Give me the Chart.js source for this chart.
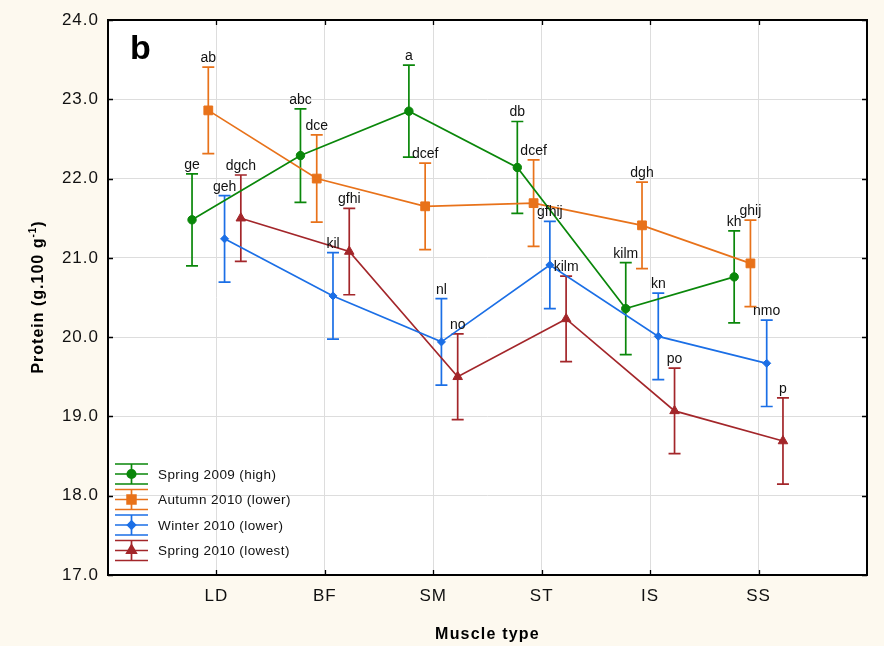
<!DOCTYPE html>
<html>
<head>
<meta charset="utf-8">
<script src="https://cdn.jsdelivr.net/npm/chart.js@4/dist/chart.umd.min.js"></script>
<style>
  html, body { margin: 0; padding: 0; background: #fdf9ef; }
</style>
</head>
<body>
<canvas id="proteinChart" width="884" height="646"></canvas>
<script>
// muscle types on the x axis and y tick values
const muscles = ['LD', 'BF', 'SM', 'ST', 'IS', 'SS']
const yTicks = [17, 18, 19, 20, 21, 22, 23, 24]

// mean protein (g.100 g-1), +/- error and letter groups, per season
const spring2009 = [21.48, 22.29, 22.85, 22.14, 20.36, 20.76]
const spring2009Err = [0.58, 0.59, 0.58, 0.58, 0.58, 0.58]
const spring2009Letters = ['ge', 'abc', 'a', 'db', 'kilm', 'kh']

const autumn2010 = [22.86, 22.0, 21.65, 21.69, 21.41, 20.93]
const autumn2010Err = [0.545, 0.55, 0.545, 0.545, 0.545, 0.545]
const autumn2010Letters = ['ab', 'dce', 'dcef', 'dcef', 'dgh', 'ghij']

const winter2010 = [21.24, 20.52, 19.94, 20.91, 20.01, 19.67]
const winter2010Err = [0.545, 0.545, 0.545, 0.55, 0.545, 0.545]
const winter2010Letters = ['geh', 'kil', 'nl', 'gfhij', 'kn', 'nmo']

const spring2010 = [21.5, 21.08, 19.5, 20.23, 19.07, 18.69]
const spring2010Err = [0.545, 0.545, 0.54, 0.54, 0.54, 0.545]
const spring2010Letters = ['dgch', 'gfhi', 'no', 'kilm', 'po', 'p']

const series = [
  { label: 'Spring 2009 (high)', values: spring2009, err: spring2009Err, letters: spring2009Letters,
    color: '#0a870a', point: 'circle', radius: 4.2, shift: -0.225 },
  { label: 'Autumn 2010 (lower)', values: autumn2010, err: autumn2010Err, letters: autumn2010Letters,
    color: '#e8721a', point: 'rect', radius: 6.2, shift: -0.075 },
  { label: 'Winter 2010 (lower)', values: winter2010, err: winter2010Err, letters: winter2010Letters,
    color: '#1b6fe6', point: 'rectRot', radius: 4, shift: 0.075 },
  { label: 'Spring 2010 (lowest)', values: spring2010, err: spring2010Err, letters: spring2010Letters,
    color: '#a3262a', point: 'triangle', radius: 5.5, shift: 0.225 }
]

const FONT = 'Arial, "Liberation Sans", sans-serif'

// backgrounds, error bars, letters, frame, legend and titles
const decor = {
  id: 'decor',
  beforeDraw(chart) {
    const { ctx, chartArea: a } = chart
    ctx.save()
    ctx.fillStyle = '#fdf9ef'
    ctx.fillRect(0, 0, chart.width, chart.height)
    ctx.fillStyle = '#ffffff'
    ctx.fillRect(a.left, a.top, a.right - a.left, a.bottom - a.top)
    ctx.restore()
    ctx.letterSpacing = '1px'
  },
  beforeDatasetsDraw(chart) {
    const { ctx, scales: { x, y } } = chart
    series.forEach(s => {
      ctx.save()
      ctx.strokeStyle = s.color
      ctx.lineWidth = 1.7
      s.values.forEach((v, i) => {
        const px = x.getPixelForValue(i + 1 + s.shift)
        const top = y.getPixelForValue(v + s.err[i])
        const bot = y.getPixelForValue(v - s.err[i])
        ctx.beginPath()
        ctx.moveTo(px, top); ctx.lineTo(px, bot)
        ctx.moveTo(px - 6, top); ctx.lineTo(px + 6, top)
        ctx.moveTo(px - 6, bot); ctx.lineTo(px + 6, bot)
        ctx.stroke()
      })
      ctx.restore()
    })
  },
  afterDatasetsDraw(chart) {
    const { ctx, scales: { x, y } } = chart
    ctx.save()
    ctx.font = '14px ' + FONT
    ctx.letterSpacing = '0px'
    ctx.fillStyle = '#111'
    ctx.textAlign = 'center'
    ctx.textBaseline = 'alphabetic'
    series.forEach(s => {
      s.values.forEach((v, i) => {
        const px = x.getPixelForValue(i + 1 + s.shift)
        const top = y.getPixelForValue(v + s.err[i])
        ctx.fillText(s.letters[i], px, top - 5)
      })
    })
    ctx.restore()
  },
  afterDraw(chart) {
    const { ctx, chartArea: a, scales: { x, y } } = chart
    ctx.save()
    // frame with inward ticks
    ctx.strokeStyle = '#000'
    ctx.lineWidth = 2
    ctx.strokeRect(a.left, a.top, a.right - a.left, a.bottom - a.top)
    ctx.lineWidth = 1.3
    ctx.beginPath()
    yTicks.forEach(v => {
      const py = Math.round(y.getPixelForValue(v)) + 0.5
      ctx.moveTo(a.left, py); ctx.lineTo(a.left + 5, py)
      ctx.moveTo(a.right, py); ctx.lineTo(a.right - 5, py)
    })
    muscles.forEach((m, i) => {
      const px = Math.round(x.getPixelForValue(i + 1)) + 0.5
      ctx.moveTo(px, a.top); ctx.lineTo(px, a.top + 5)
      ctx.moveTo(px, a.bottom); ctx.lineTo(px, a.bottom - 5)
    })
    ctx.stroke()

    // legend
    const rowY = [474, 499.5, 525, 550.5]
    series.forEach((s, k) => {
      const cy = rowY[k]
      const x0 = 115, x1 = 148, cx = (x0 + x1) / 2
      ctx.strokeStyle = s.color
      ctx.lineWidth = 1.7
      ctx.beginPath()
      ctx.moveTo(x0, cy); ctx.lineTo(x1, cy)
      ctx.moveTo(x0, cy - 10); ctx.lineTo(x1, cy - 10)
      ctx.moveTo(x0, cy + 10); ctx.lineTo(x1, cy + 10)
      ctx.moveTo(cx, cy - 10); ctx.lineTo(cx, cy + 10)
      ctx.stroke()
      ctx.fillStyle = s.color
      Chart.helpers.drawPoint(ctx, { pointStyle: s.point, radius: s.radius, borderWidth: 1 }, cx, cy)
      ctx.fillStyle = '#111'
      ctx.font = '13.5px ' + FONT
      ctx.letterSpacing = '0.4px'
      ctx.textAlign = 'left'
      ctx.textBaseline = 'middle'
      ctx.fillText(s.label, 158, cy + 1)
    })

    // panel letter
    ctx.fillStyle = '#000'
    ctx.letterSpacing = '0px'
    ctx.font = 'bold 34px ' + FONT
    ctx.textAlign = 'left'
    ctx.textBaseline = 'alphabetic'
    ctx.fillText('b', 130, 59)

    // x axis title
    ctx.font = 'bold 16px ' + FONT
    ctx.letterSpacing = '1.2px'
    ctx.textAlign = 'center'
    ctx.fillText('Muscle type', (a.left + a.right) / 2, 639)

    // y axis title with superscript
    ctx.translate(43, 297)
    ctx.rotate(-Math.PI / 2)
    const main = 'Protein (g.100 g'
    ctx.letterSpacing = '1px'
    ctx.font = 'bold 16px ' + FONT
    const wMain = ctx.measureText(main).width
    ctx.font = 'bold 10px ' + FONT
    const wSup = ctx.measureText('-1').width
    ctx.font = 'bold 16px ' + FONT
    const wEnd = ctx.measureText(')').width
    let tx = -(wMain + wSup + wEnd) / 2
    ctx.textAlign = 'left'
    ctx.fillText(main, tx, 0)
    tx += wMain
    ctx.font = 'bold 10px ' + FONT
    ctx.fillText('-1', tx, -7)
    tx += wSup
    ctx.font = 'bold 16px ' + FONT
    ctx.fillText(')', tx, 0)
    ctx.restore()
  }
}

const proteinChart = new Chart(document.getElementById('proteinChart'), {
  type: 'line',
  data: {
    datasets: series.map(s => ({
      label: s.label,
      data: s.values.map((v, i) => ({ x: i + 1 + s.shift, y: v })),
      borderColor: s.color,
      backgroundColor: s.color,
      pointBorderColor: s.color,
      pointBackgroundColor: s.color,
      borderWidth: 1.7,
      pointStyle: s.point,
      pointRadius: s.radius,
      pointBorderWidth: 1,
      tension: 0
    }))
  },
  options: {
    responsive: false,
    devicePixelRatio: 1,
    animation: false,
    layout: { padding: { top: 20, right: 17, left: 0, bottom: 0 }, autoPadding: false },
    plugins: { legend: { display: false }, tooltip: { enabled: false } },
    scales: {
      x: {
        type: 'linear', min: 0, max: 7,
        afterBuildTicks: s => { s.ticks = muscles.map((m, i) => ({ value: i + 1 })) },
        afterFit: s => { s.height = 71 },
        ticks: {
          callback: v => muscles[v - 1] || '',
          font: { size: 17, family: FONT }, color: '#111', padding: 11,
          autoSkip: false, maxRotation: 0
        },
        grid: { color: '#dddddd', lineWidth: 1, drawTicks: false },
        border: { display: false }
      },
      y: {
        min: 17, max: 24,
        afterBuildTicks: s => { s.ticks = yTicks.map(v => ({ value: v })) },
        afterFit: s => { s.width = 108 },
        ticks: {
          callback: v => v.toFixed(1),
          font: { size: 17, family: FONT }, color: '#111', padding: 9
        },
        grid: { color: '#dddddd', lineWidth: 1, drawTicks: false },
        border: { display: false }
      }
    }
  },
  plugins: [decor]
})
</script>
</body>
</html>
